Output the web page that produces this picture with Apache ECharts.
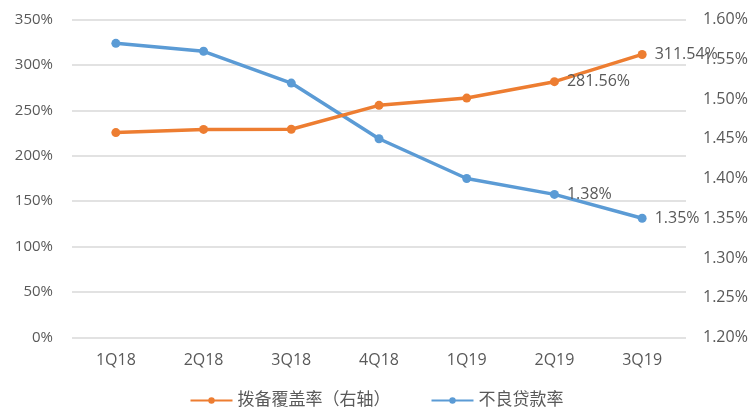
<!DOCTYPE html>
<html><head><meta charset="utf-8">
<script src="https://cdn.jsdelivr.net/npm/echarts@6/dist/echarts.min.js"></script>
<style>html,body{margin:0;padding:0;background:#fff;}#c{width:753px;height:414px;}</style>
</head><body><div id="c"></div>
<script>
var categories = ['1Q18','2Q18','3Q18','4Q18','1Q19','2Q19','3Q19'];
var provisionCoverage = [225.5, 229.0, 229.2, 255.5, 263.5, 281.56, 311.54];
var nplRatio = [1.57, 1.56, 1.52, 1.45, 1.40, 1.38, 1.35];
var leftTicks = [0, 350, 50];
var rightTicks = [1.20, 1.60, 0.05];
var labeledIdx = [5, 6];

var chart = echarts.init(document.getElementById('c'));
var font = '"Open Sans", "Noto Sans CJK SC", sans-serif';
function labelFor(idx, fmt){
  return {show:true, position:'right', distance:8, color:'#595959', fontSize:16, fontFamily:font,
    formatter:function(p){ return labeledIdx.indexOf(p.dataIndex)>=0 ? fmt(p.value) : ''; }};
}
chart.setOption({
  animation:false,
  grid:{left:72, right:67, top:19.5, bottom:76.5},
  legend:{bottom:0, left:'center', itemWidth:42, itemHeight:8, itemGap:40,
    textStyle:{color:'#595959', fontSize:17, fontFamily:font},
    data:['拨备覆盖率（右轴）','不良贷款率']},
  xAxis:{type:'category', data:categories, boundaryGap:true,
    axisLine:{show:false}, axisTick:{show:false},
    axisLabel:{color:'#595959', fontSize:16, fontFamily:font, margin:15}},
  yAxis:[
    {type:'value', min:leftTicks[0], max:leftTicks[1], interval:leftTicks[2],
     axisLine:{show:false}, axisTick:{show:false},
     splitLine:{lineStyle:{color:'#D9D9D9', width:1.5}},
     axisLabel:{color:'#595959', fontSize:15, fontFamily:font, margin:19, formatter:'{value}%'}},
    {type:'value', min:rightTicks[0], max:rightTicks[1], interval:rightTicks[2],
     axisLine:{show:false}, axisTick:{show:false}, splitLine:{show:false},
     axisLabel:{color:'#595959', fontSize:16, fontFamily:font, margin:17,
       formatter:function(v){return v.toFixed(2)+'%';}}}
  ],
  series:[
    {name:'拨备覆盖率（右轴）', type:'line', yAxisIndex:0, data:provisionCoverage,
     symbol:'circle', symbolSize:9, color:'#ED7D31',
     lineStyle:{width:3.5, color:'#ED7D31'}, itemStyle:{color:'#ED7D31'},
     label:labelFor(0, function(v){return v.toFixed(2)+'%';}), z:3},
    {name:'不良贷款率', type:'line', yAxisIndex:1, data:nplRatio,
     symbol:'circle', symbolSize:9, color:'#5B9BD5',
     lineStyle:{width:3.5, color:'#5B9BD5'}, itemStyle:{color:'#5B9BD5'},
     label:labelFor(1, function(v){return v.toFixed(2)+'%';}), z:2}
  ]
});
</script></body></html>
